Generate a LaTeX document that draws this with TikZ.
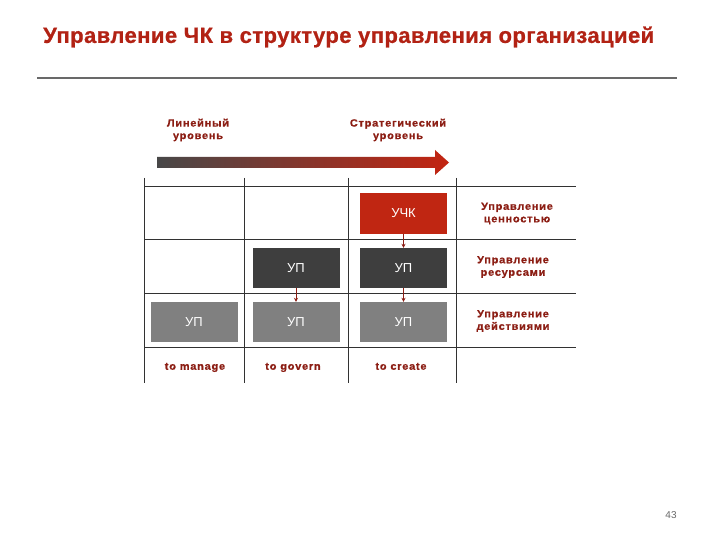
\documentclass[tikz,border=0pt]{standalone}
\usepackage{fontspec}
\setmainfont{Liberation Sans}
\newfontfamily\widebold[LetterSpace=7,FakeStretch=1.05,FakeBold=0.6]{Liberation Sans Bold}
\newfontfamily\titlefont[LetterSpace=2,FakeBold=0.8]{Liberation Sans Bold}
\usetikzlibrary{arrows.meta}
\definecolor{titlered}{RGB}{178,34,20}
\definecolor{lblred}{RGB}{140,30,20}
\definecolor{uchkred}{RGB}{192,38,18}
\definecolor{darkbox}{RGB}{62,62,62}
\definecolor{greybox}{RGB}{128,128,128}
\definecolor{gridc}{RGB}{50,50,50}
\definecolor{rulec}{RGB}{105,105,105}
\begin{document}
\begin{tikzpicture}[x=1pt,y=-1pt,
  box/.style={minimum width=87pt,minimum height=40pt,inner sep=0pt,text=white,font=\fontsize{13}{15}\selectfont},
  uchkbox/.style={box,fill=uchkred},
  darkb/.style={box,fill=darkbox},
  greyb/.style={box,fill=greybox},
  lbl/.style={text=lblred,font=\widebold\fontsize{10.5}{12.5}\selectfont,align=center,inner sep=0pt},
  onelbl/.style={lbl,text height=8pt,text depth=2.5pt},
  gridline/.style={draw=gridc,line width=0.8pt},
  conn/.style={draw=lblred,line width=1pt,-{Stealth[length=4pt,width=4pt]}}]
\useasboundingbox (0,0) rectangle (720,540);
\fill[white] (0,0) rectangle (720,540);
% title
\node[anchor=west,text=titlered,font=\titlefont\fontsize{22}{26}\selectfont,inner sep=0pt] (title) at (43,37) {Управление ЧК в структуре управления организацией};
\draw[rulec,line width=2.8pt] (37,78) -- (677,78);
% gradient arrow
\shade[left color=darkbox!95,right color=uchkred!95!red] (157,157) -- (435,157) -- (435,150) -- (449,162.5) -- (435,175) -- (435,168) -- (157,168) -- cycle;
\node[lbl] (lin) at (198,130) {Линейный\\уровень};
\node[lbl] (strat) at (398,130) {Стратегический\\уровень};
% grid
\foreach \xx in {144,244,348,456} {\draw[gridline] (\xx,178) -- (\xx,383);}
\foreach \yy in {186,239,293,347} {\draw[gridline] (144,\yy) -- (576,\yy);}
% boxes
\node[uchkbox] (uchk) at (403.5,213.5) {УЧК};
\node[darkb] (up22) at (296,268) {УП};
\node[darkb] (up23) at (403.5,268) {УП};
\node[greyb] (up31) at (194,322) {УП};
\node[greyb] (up32) at (296,322) {УП};
\node[greyb] (up33) at (403.5,322) {УП};
\draw[conn] (uchk.south) -- (up23.north);
\draw[conn] (up22.south) -- (up32.north);
\draw[conn] (up23.south) -- (up33.north);
% right labels
\node[lbl] (val) at (517,213.5) {Управление\\ценностью};
\node[lbl] (res) at (513,267) {Управление\\ресурсами};
\node[lbl] (act) at (513,321) {Управление\\действиями};
% bottom labels
\node[onelbl] (man) at (195,367) {to manage};
\node[onelbl] (gov) at (293,367) {to govern};
\node[onelbl] (cre) at (401,367) {to create};
\node[text=rulec,font=\fontsize{10}{12}\selectfont,inner sep=0pt] (pg) at (671,515) {43};
\end{tikzpicture}
\end{document}
